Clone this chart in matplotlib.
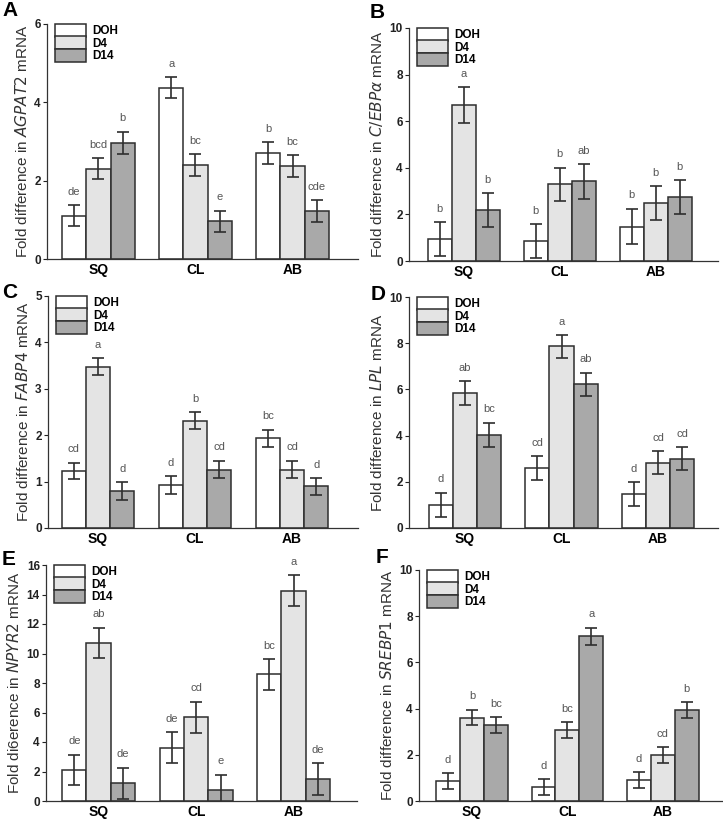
import matplotlib
matplotlib.use("Agg")
import matplotlib.pyplot as plt
from matplotlib.patches import Patch
import numpy as np

plt.rcParams['font.family'] = ['Liberation Sans', 'DejaVu Sans']

groups = ["SQ", "CL", "AB"]
series = ["DOH", "D4", "D14"]
colors = ["#ffffff", "#e4e4e4", "#a9a9a9"]

# Panel A: AGPAT2
a_vals = [[1.10, 4.37, 2.70], [2.30, 2.40, 2.37], [2.97, 0.96, 1.23]]
a_err = [[0.27, 0.27, 0.28], [0.27, 0.27, 0.28], [0.28, 0.27, 0.28]]
a_lbl = [["de", "a", "b"], ["bcd", "bc", "bc"], ["b", "e", "cde"]]
# Panel B: C/EBPa
b_vals = [[0.93, 0.86, 1.48], [6.70, 3.30, 2.48], [2.19, 3.42, 2.74]]
b_err = [[0.73, 0.73, 0.76], [0.76, 0.71, 0.73], [0.73, 0.75, 0.72]]
b_lbl = [["b", "b", "b"], ["a", "b", "b"], ["b", "ab", "b"]]
# Panel C: FABP4
c_vals = [[1.23, 0.92, 1.93], [3.48, 2.31, 1.26], [0.80, 1.26, 0.90]]
c_err = [[0.18, 0.19, 0.19], [0.18, 0.18, 0.19], [0.19, 0.19, 0.18]]
c_lbl = [["cd", "d", "bc"], ["a", "b", "cd"], ["d", "cd", "d"]]
# Panel D: LPL
d_vals = [[1.01, 2.59, 1.47], [5.84, 7.86, 2.82], [4.03, 6.22, 3.00]]
d_err = [[0.52, 0.52, 0.52], [0.52, 0.50, 0.50], [0.53, 0.51, 0.50]]
d_lbl = [["d", "cd", "d"], ["ab", "a", "cd"], ["bc", "ab", "cd"]]
# Panel E: NPYR2
e_vals = [[2.10, 3.62, 8.59], [10.73, 5.67, 14.26], [1.20, 0.75, 1.47]]
e_err = [[1.04, 1.04, 1.04], [1.02, 1.06, 1.06], [1.06, 1.04, 1.08]]
e_lbl = [["de", "de", "bc"], ["ab", "cd", "a"], ["de", "e", "de"]]
# Panel F: SREBP1
f_vals = [[0.87, 0.61, 0.91], [3.61, 3.06, 1.99], [3.29, 7.13, 3.94]]
f_err = [[0.33, 0.33, 0.35], [0.34, 0.35, 0.35], [0.35, 0.37, 0.35]]
f_lbl = [["d", "d", "d"], ["b", "bc", "cd"], ["bc", "a", "b"]]

W, H = 723, 824
panels = [
    # letter, vals, err, lbl, ylabel, ymax, step, rect(px: left,right,top,bottom), xlim, letterpos(px)
    ("A", a_vals, a_err, a_lbl, "Fold difference in $\\it{AGPAT2}$ mRNA", 6, 2,
     (47, 358, 24, 259), (-0.53, 2.675), (2, 1)),
    ("B", b_vals, b_err, b_lbl, "Fold difference in $\\it{C/EBP\\alpha}$ mRNA", 10, 2,
     (409, 718, 28, 261), (-0.568, 2.65), (370, 3)),
    ("C", c_vals, c_err, c_lbl, "Fold difference in $\\it{FABP4}$ mRNA", 5, 1,
     (48, 358, 296, 528), (-0.515, 2.68), (2, 283)),
    ("D", d_vals, d_err, d_lbl, "Fold difference in $\\it{LPL}$ mRNA", 10, 2,
     (409, 718, 297, 528), (-0.58, 2.62), (371, 285)),
    ("E", e_vals, e_err, e_lbl, "Fold di6erence in $\\it{NPYR2}$ mRNA", 16, 2,
     (46, 357, 565, 801), (-0.54, 2.65), (2, 550)),
    ("F", f_vals, f_err, f_lbl, "Fold difference in $\\it{SREBP1}$ mRNA", 10, 2,
     (419, 723, 570, 801), (-0.555, 2.63), (376, 548)),
]

fig = plt.figure(figsize=(W / 100, H / 100), dpi=100)
edge = "#2e2e2e"
bw = 0.25
x = np.arange(len(groups))

for letter, vals, err, lbl, ylabel, ymax, step, rect, xlim, lpos in panels:
    l, r, t, b = rect
    ax = fig.add_axes([l / W, 1 - b / H, (r - l) / W, (b - t) / H])
    for i, s in enumerate(series):
        pos = x + (i - 1) * bw
        ax.bar(pos, vals[i], width=bw, color=colors[i], edgecolor=edge,
               linewidth=1.1, zorder=2)
        ax.errorbar(pos, vals[i], yerr=err[i], fmt="none", ecolor=edge,
                    elinewidth=1.2, capsize=4.3, capthick=1.2, zorder=3)
        for j in range(len(groups)):
            ax.annotate(lbl[i][j], (pos[j], vals[i][j] + err[i][j]),
                        xytext=(0, 6), textcoords="offset points",
                        ha="center", va="bottom", fontsize=8, color="#555555")
    ax.set_xlim(*xlim)
    ax.set_ylim(0, ymax)
    ax.set_yticks(np.arange(0, ymax + 0.001, step))
    ax.set_yticklabels([f"{v:g}" for v in np.arange(0, ymax + 0.001, step)],
                       fontweight="bold", fontsize=8.5)
    ax.set_xticks(x)
    ax.set_xticklabels(groups, fontweight="bold", fontsize=10)
    ax.tick_params(axis="x", length=0, pad=3)
    ax.tick_params(axis="y", length=3, width=0.8, pad=1.5, direction="out", colors="#222222")
    for sp in ["top", "right"]:
        ax.spines[sp].set_visible(False)
    for sp in ["left", "bottom"]:
        ax.spines[sp].set_color("#333333")
        ax.spines[sp].set_linewidth(0.9)
    ax.set_ylabel(ylabel, fontsize=11, color="#333333", labelpad=3)
    handles = [Patch(facecolor=colors[i], edgecolor=edge, linewidth=1.1) for i in range(3)]
    leg = ax.legend(handles, series, loc="upper left", bbox_to_anchor=(0.027, 1.0),
                    frameon=False, prop={"weight": "bold", "size": 8.5},
                    handlelength=2.6, handleheight=1.32, labelspacing=-0.1,
                    handletextpad=0.5, borderpad=0.0, borderaxespad=0.0)
    fig.text(lpos[0] / W, 1 - lpos[1] / H, letter, fontsize=15, fontweight="bold",
             ha="left", va="top")

fig.savefig("out.png", dpi=100)
